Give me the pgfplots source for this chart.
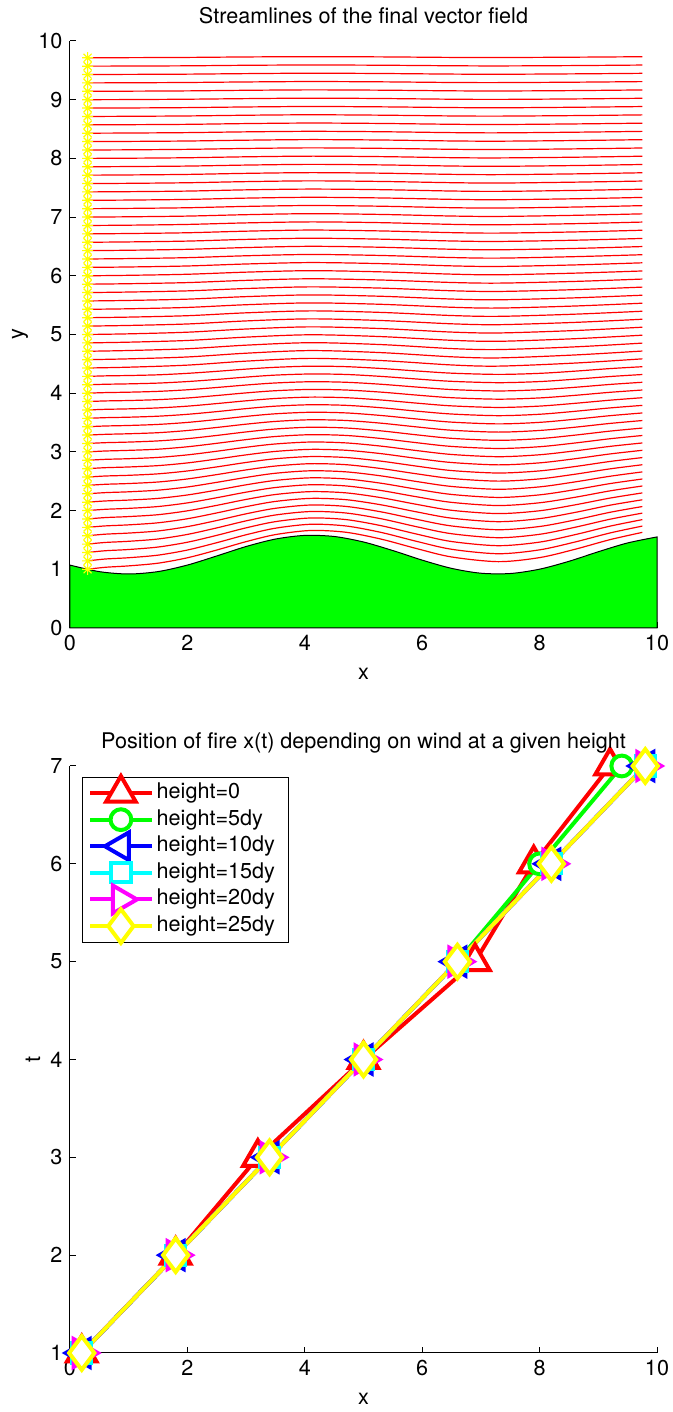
\documentclass[border=0pt]{standalone}
\usepackage{fontspec}
\setmainfont{TeX Gyre Heros}
\usepackage{pgfplots}
\pgfplotsset{compat=1.18}

\definecolor{mred}{rgb}{1,0,0}
\definecolor{mgreen}{rgb}{0,1,0}
\definecolor{mblue}{rgb}{0,0,1}
\definecolor{mcyan}{rgb}{0,1,1}
\definecolor{mmagenta}{rgb}{1,0,1}
\definecolor{myellow}{rgb}{1,1,0}

% eight-armed asterisk for the seed points
\pgfdeclareplotmark{mstar}{%
  \pgfpathmoveto{\pgfqpoint{-\pgfplotmarksize}{0pt}}%
  \pgfpathlineto{\pgfqpoint{\pgfplotmarksize}{0pt}}%
  \pgfpathmoveto{\pgfqpoint{0pt}{-\pgfplotmarksize}}%
  \pgfpathlineto{\pgfqpoint{0pt}{\pgfplotmarksize}}%
  \pgfpathmoveto{\pgfqpoint{-0.707\pgfplotmarksize}{-0.707\pgfplotmarksize}}%
  \pgfpathlineto{\pgfqpoint{0.707\pgfplotmarksize}{0.707\pgfplotmarksize}}%
  \pgfpathmoveto{\pgfqpoint{-0.707\pgfplotmarksize}{0.707\pgfplotmarksize}}%
  \pgfpathlineto{\pgfqpoint{0.707\pgfplotmarksize}{-0.707\pgfplotmarksize}}%
  \pgfusepathqstroke}

\pgfplotsset{
  panel/.style={
    scale only axis, width=293.5pt, height=293.5pt, anchor=south west,
    axis x line*=bottom, axis y line*=left,
    axis line style={-, line width=0.5pt, black},
    tick align=inside, major tick length=3pt,
    tick style={black, line width=0.5pt},
    /pgf/number format/assume math mode=true,
    xmin=0, xmax=10, xtick={0,2,4,6,8,10},
    clip=false,
    title style={at={(axis description cs:0.5,1)}, anchor=base, yshift=2.5pt},
    xlabel style={at={(axis description cs:0.5,0)}, anchor=base, yshift=-26pt},
  },
  stream/.style={mred, line width=0.6pt, smooth},
  fire/.style={line width=2pt},
}

\begin{document}
\begin{tikzpicture}
\fontsize{10.8}{13}\selectfont
\useasboundingbox (0,0) rectangle (336.5pt,706pt);

% ---------------- streamlines over the wavy ground ----------------
\begin{axis}[panel, at={(35pt,392pt)},
  ymin=0, ymax=10, ytick={0,1,2,3,4,5,6,7,8,9,10},
  title={Streamlines of the final vector field},
  xlabel={x}, ylabel={y},
  ylabel style={at={(axis description cs:-0.0852,0.5)}, anchor=center, rotate=0},
]
% ground
\addplot[fill=mgreen, draw=black, line width=0.5pt, smooth] coordinates {
 (0,1.071) (0.5,0.960) (1.0,0.920) (1.5,0.961) (2.0,1.072) (2.5,1.227)
 (3.0,1.388) (3.5,1.515) (4.0,1.577) (4.5,1.559) (5.0,1.465) (5.5,1.319)
 (6.0,1.156) (6.5,1.016) (7.0,0.933) (7.5,0.928) (8.0,1.002) (8.5,1.136)
 (9.0,1.299) (9.5,1.449) (10.0,1.551)} \closedcycle;

% lower streamlines
\addplot[stream] coordinates {(0.3,1.000)(0.6,1.034)(1.0,1.058)(1.5,1.104)(2.0,1.196)(2.5,1.328)(3.0,1.471)(3.5,1.591)(4.1,1.661)(4.7,1.631)(5.3,1.514)(5.9,1.354)(6.5,1.210)(7.3,1.130)(8.0,1.199)(8.6,1.340)(9.2,1.505)(9.75,1.629)};
\addplot[stream] coordinates {(0.3,1.143)(0.6,1.175)(1.0,1.197)(1.5,1.241)(2.0,1.328)(2.5,1.453)(3.0,1.588)(3.5,1.700)(4.1,1.767)(4.7,1.738)(5.3,1.628)(5.9,1.477)(6.5,1.341)(7.3,1.265)(8.0,1.331)(8.6,1.464)(9.2,1.619)(9.75,1.736)};
\addplot[stream] coordinates {(0.3,1.286)(0.6,1.316)(1.0,1.337)(1.5,1.379)(2.0,1.461)(2.5,1.578)(3.0,1.706)(3.5,1.812)(4.1,1.874)(4.7,1.847)(5.3,1.743)(5.9,1.601)(6.5,1.473)(7.3,1.402)(8.0,1.463)(8.6,1.589)(9.2,1.735)(9.75,1.846)};
\addplot[stream] coordinates {(0.3,1.429)(0.6,1.457)(1.0,1.477)(1.5,1.516)(2.0,1.594)(2.5,1.705)(3.0,1.825)(3.5,1.925)(4.1,1.984)(4.7,1.959)(5.3,1.861)(5.9,1.726)(6.5,1.606)(7.3,1.538)(8.0,1.596)(8.6,1.715)(9.2,1.853)(9.75,1.957)};
\addplot[stream] coordinates {(0.3,1.571)(0.6,1.598)(1.0,1.617)(1.5,1.653)(2.0,1.727)(2.5,1.831)(3.0,1.945)(3.5,2.039)(4.1,2.095)(4.7,2.071)(5.3,1.978)(5.9,1.852)(6.5,1.738)(7.3,1.674)(8.0,1.729)(8.6,1.840)(9.2,1.971)(9.75,2.069)};
\addplot[stream] coordinates {(0.3,1.714)(0.6,1.739)(1.0,1.757)(1.5,1.792)(2.0,1.861)(2.5,1.960)(3.0,2.067)(3.5,2.156)(4.1,2.208)(4.7,2.186)(5.3,2.098)(5.9,1.979)(6.5,1.871)(7.3,1.811)(8.0,1.863)(8.6,1.968)(9.2,2.092)(9.75,2.184)};
\addplot[stream] coordinates {(0.3,1.857)(0.6,1.881)(1.0,1.898)(1.5,1.930)(2.0,1.996)(2.5,2.089)(3.0,2.190)(3.5,2.274)(4.1,2.323)(4.7,2.302)(5.3,2.220)(5.9,2.107)(6.5,2.005)(7.3,1.949)(8.0,1.997)(8.6,2.097)(9.2,2.213)(9.75,2.301)};
\addplot[stream] coordinates {(0.3,2.000)(0.6,2.022)(1.0,2.038)(1.5,2.069)(2.0,2.131)(2.5,2.219)(3.0,2.314)(3.5,2.393)(4.1,2.440)(4.7,2.420)(5.3,2.342)(5.9,2.236)(6.5,2.140)(7.3,2.086)(8.0,2.133)(8.6,2.226)(9.2,2.336)(9.75,2.419)};
\addplot[stream] coordinates {(0.3,2.143)(0.6,2.164)(1.0,2.179)(1.5,2.208)(2.0,2.266)(2.5,2.349)(3.0,2.439)(3.5,2.514)(4.1,2.558)(4.7,2.539)(5.3,2.466)(5.9,2.365)(6.5,2.275)(7.3,2.224)(8.0,2.268)(8.6,2.356)(9.2,2.460)(9.75,2.538)};
\addplot[stream] coordinates {(0.3,2.286)(0.6,2.306)(1.0,2.320)(1.5,2.348)(2.0,2.402)(2.5,2.481)(3.0,2.565)(3.5,2.636)(4.1,2.678)(4.7,2.660)(5.3,2.591)(5.9,2.496)(6.5,2.411)(7.3,2.363)(8.0,2.404)(8.6,2.488)(9.2,2.585)(9.75,2.659)};
\addplot[stream] coordinates {(0.3,2.429)(0.6,2.448)(1.0,2.461)(1.5,2.487)(2.0,2.539)(2.5,2.613)(3.0,2.693)(3.5,2.759)(4.1,2.799)(4.7,2.782)(5.3,2.716)(5.9,2.627)(6.5,2.547)(7.3,2.502)(8.0,2.540)(8.6,2.619)(9.2,2.711)(9.75,2.781)};
\addplot[stream] coordinates {(0.3,2.571)(0.6,2.589)(1.0,2.601)(1.5,2.626)(2.0,2.675)(2.5,2.744)(3.0,2.820)(3.5,2.883)(4.1,2.920)(4.7,2.904)(5.3,2.842)(5.9,2.758)(6.5,2.682)(7.3,2.640)(8.0,2.676)(8.6,2.750)(9.2,2.837)(9.75,2.903)};
\addplot[stream] coordinates {(0.3,2.714)(0.6,2.731)(1.0,2.743)(1.5,2.766)(2.0,2.812)(2.5,2.878)(3.0,2.949)(3.5,3.008)(4.1,3.043)(4.7,3.028)(5.3,2.970)(5.9,2.890)(6.5,2.819)(7.3,2.779)(8.0,2.813)(8.6,2.883)(9.2,2.965)(9.75,3.027)};
\addplot[stream] coordinates {(0.3,2.857)(0.6,2.873)(1.0,2.884)(1.5,2.906)(2.0,2.949)(2.5,3.011)(3.0,3.079)(3.5,3.135)(4.1,3.168)(4.7,3.153)(5.3,3.098)(5.9,3.023)(6.5,2.956)(7.3,2.918)(8.0,2.951)(8.6,3.017)(9.2,3.094)(9.75,3.152)};
\addplot[stream] coordinates {(0.3,3.000)(0.6,3.015)(1.0,3.026)(1.5,3.046)(2.0,3.087)(2.5,3.146)(3.0,3.209)(3.5,3.262)(4.1,3.293)(4.7,3.280)(5.3,3.228)(5.9,3.157)(6.5,3.093)(7.3,3.058)(8.0,3.088)(8.6,3.151)(9.2,3.224)(9.75,3.279)};
\addplot[stream] coordinates {(0.3,3.143)(0.6,3.157)(1.0,3.167)(1.5,3.187)(2.0,3.225)(2.5,3.280)(3.0,3.340)(3.5,3.390)(4.1,3.420)(4.7,3.407)(5.3,3.358)(5.9,3.291)(6.5,3.231)(7.3,3.197)(8.0,3.226)(8.6,3.285)(9.2,3.354)(9.75,3.406)};
\addplot[stream] coordinates {(0.3,3.286)(0.6,3.299)(1.0,3.309)(1.5,3.327)(2.0,3.364)(2.5,3.416)(3.0,3.472)(3.5,3.519)(4.1,3.547)(4.7,3.535)(5.3,3.489)(5.9,3.426)(6.5,3.369)(7.3,3.337)(8.0,3.365)(8.6,3.420)(9.2,3.485)(9.75,3.534)};
\addplot[stream] coordinates {(0.3,3.429)(0.6,3.441)(1.0,3.450)(1.5,3.468)(2.0,3.502)(2.5,3.551)(3.0,3.605)(3.5,3.649)(4.1,3.675)(4.7,3.664)(5.3,3.620)(5.9,3.561)(6.5,3.507)(7.3,3.477)(8.0,3.503)(8.6,3.556)(9.2,3.617)(9.75,3.663)};
\addplot[stream] coordinates {(0.3,3.571)(0.6,3.583)(1.0,3.591)(1.5,3.608)(2.0,3.640)(2.5,3.686)(3.0,3.737)(3.5,3.779)(4.1,3.803)(4.7,3.793)(5.3,3.752)(5.9,3.695)(6.5,3.645)(7.3,3.617)(8.0,3.641)(8.6,3.691)(9.2,3.749)(9.75,3.792)};
\addplot[stream] coordinates {(0.3,3.714)(0.6,3.725)(1.0,3.733)(1.5,3.749)(2.0,3.779)(2.5,3.823)(3.0,3.870)(3.5,3.910)(4.1,3.933)(4.7,3.923)(5.3,3.884)(5.9,3.831)(6.5,3.784)(7.3,3.757)(8.0,3.780)(8.6,3.827)(9.2,3.881)(9.75,3.923)};
\addplot[stream] coordinates {(0.3,3.857)(0.6,3.868)(1.0,3.875)(1.5,3.890)(2.0,3.918)(2.5,3.960)(3.0,4.005)(3.5,4.042)(4.1,4.064)(4.7,4.054)(5.3,4.018)(5.9,3.968)(6.5,3.923)(7.3,3.898)(8.0,3.919)(8.6,3.963)(9.2,4.015)(9.75,4.054)};
\addplot[stream] coordinates {(0.3,4.000)(0.6,4.010)(1.0,4.017)(1.5,4.031)(2.0,4.058)(2.5,4.097)(3.0,4.139)(3.5,4.174)(4.1,4.195)(4.7,4.186)(5.3,4.152)(5.9,4.105)(6.5,4.062)(7.3,4.038)(8.0,4.059)(8.6,4.100)(9.2,4.149)(9.75,4.186)};
\addplot[stream] coordinates {(0.3,4.143)(0.6,4.152)(1.0,4.159)(1.5,4.172)(2.0,4.198)(2.5,4.234)(3.0,4.274)(3.5,4.308)(4.1,4.327)(4.7,4.319)(5.3,4.286)(5.9,4.242)(6.5,4.202)(7.3,4.179)(8.0,4.198)(8.6,4.238)(9.2,4.284)(9.75,4.318)};
\addplot[stream] coordinates {(0.3,4.286)(0.6,4.295)(1.0,4.301)(1.5,4.313)(2.0,4.338)(2.5,4.372)(3.0,4.410)(3.5,4.441)(4.1,4.460)(4.7,4.452)(5.3,4.421)(5.9,4.379)(6.5,4.341)(7.3,4.320)(8.0,4.338)(8.6,4.375)(9.2,4.419)(9.75,4.451)};

% upper streamlines
\addplot[stream] coordinates {(0.3,4.429)(1.0,4.443)(2.0,4.478)(3.0,4.546)(4.1,4.593)(5.3,4.556)(6.5,4.481)(7.3,4.461)(8.6,4.513)(9.75,4.585)};
\addplot[stream] coordinates {(0.3,4.571)(1.0,4.585)(2.0,4.617)(3.0,4.681)(4.1,4.726)(5.3,4.691)(6.5,4.620)(7.3,4.601)(8.6,4.651)(9.75,4.718)};
\addplot[stream] coordinates {(0.3,4.714)(1.0,4.727)(2.0,4.757)(3.0,4.818)(4.1,4.860)(5.3,4.828)(6.5,4.760)(7.3,4.743)(8.6,4.789)(9.75,4.853)};
\addplot[stream] coordinates {(0.3,4.857)(1.0,4.869)(2.0,4.898)(3.0,4.955)(4.1,4.995)(5.3,4.964)(6.5,4.901)(7.3,4.884)(8.6,4.928)(9.75,4.988)};
\addplot[stream] coordinates {(0.3,5.000)(1.0,5.011)(2.0,5.039)(3.0,5.093)(4.1,5.130)(5.3,5.101)(6.5,5.041)(7.3,5.026)(8.6,5.067)(9.75,5.124)};
\addplot[stream] coordinates {(0.3,5.143)(1.0,5.154)(2.0,5.179)(3.0,5.231)(4.1,5.266)(5.3,5.238)(6.5,5.182)(7.3,5.167)(8.6,5.206)(9.75,5.260)};
\addplot[stream] coordinates {(0.3,5.286)(1.0,5.296)(2.0,5.320)(3.0,5.369)(4.1,5.402)(5.3,5.376)(6.5,5.323)(7.3,5.309)(8.6,5.346)(9.75,5.396)};
\addplot[stream] coordinates {(0.3,5.429)(1.0,5.438)(2.0,5.461)(3.0,5.507)(4.1,5.538)(5.3,5.514)(6.5,5.464)(7.3,5.450)(8.6,5.485)(9.75,5.533)};
\addplot[stream] coordinates {(0.3,5.571)(1.0,5.580)(2.0,5.602)(3.0,5.645)(4.1,5.674)(5.3,5.651)(6.5,5.604)(7.3,5.591)(8.6,5.624)(9.75,5.669)};
\addplot[stream] coordinates {(0.3,5.714)(1.0,5.723)(2.0,5.743)(3.0,5.783)(4.1,5.811)(5.3,5.790)(6.5,5.745)(7.3,5.733)(8.6,5.764)(9.75,5.807)};
\addplot[stream] coordinates {(0.3,5.857)(1.0,5.865)(2.0,5.884)(3.0,5.922)(4.1,5.949)(5.3,5.928)(6.5,5.886)(7.3,5.875)(8.6,5.904)(9.75,5.944)};
\addplot[stream] coordinates {(0.3,6.000)(1.0,6.008)(2.0,6.026)(3.0,6.062)(4.1,6.087)(5.3,6.067)(6.5,6.028)(7.3,6.017)(8.6,6.045)(9.75,6.082)};
\addplot[stream] coordinates {(0.3,6.143)(1.0,6.150)(2.0,6.167)(3.0,6.201)(4.1,6.225)(5.3,6.207)(6.5,6.169)(7.3,6.159)(8.6,6.185)(9.75,6.221)};
\addplot[stream] coordinates {(0.3,6.286)(1.0,6.293)(2.0,6.309)(3.0,6.341)(4.1,6.363)(5.3,6.346)(6.5,6.311)(7.3,6.301)(8.6,6.326)(9.75,6.359)};
\addplot[stream] coordinates {(0.3,6.429)(1.0,6.435)(2.0,6.451)(3.0,6.481)(4.1,6.502)(5.3,6.486)(6.5,6.452)(7.3,6.443)(8.6,6.466)(9.75,6.498)};
\addplot[stream] coordinates {(0.3,6.571)(1.0,6.577)(2.0,6.591)(3.0,6.620)(4.1,6.640)(5.3,6.624)(6.5,6.593)(7.3,6.585)(8.6,6.606)(9.75,6.636)};
\addplot[stream] coordinates {(0.3,6.714)(1.0,6.720)(2.0,6.733)(3.0,6.760)(4.1,6.779)(5.3,6.764)(6.5,6.735)(7.3,6.727)(8.6,6.747)(9.75,6.776)};
\addplot[stream] coordinates {(0.3,6.857)(1.0,6.862)(2.0,6.875)(3.0,6.901)(4.1,6.918)(5.3,6.905)(6.5,6.876)(7.3,6.869)(8.6,6.888)(9.75,6.915)};
\addplot[stream] coordinates {(0.3,7.000)(1.0,7.005)(2.0,7.017)(3.0,7.041)(4.1,7.058)(5.3,7.045)(6.5,7.018)(7.3,7.011)(8.6,7.030)(9.75,7.055)};
\addplot[stream] coordinates {(0.3,7.143)(1.0,7.148)(2.0,7.159)(3.0,7.182)(4.1,7.197)(5.3,7.185)(6.5,7.160)(7.3,7.154)(8.6,7.171)(9.75,7.195)};
\addplot[stream] coordinates {(0.3,7.286)(1.0,7.290)(2.0,7.301)(3.0,7.323)(4.1,7.337)(5.3,7.326)(6.5,7.302)(7.3,7.296)(8.6,7.312)(9.75,7.335)};
\addplot[stream] coordinates {(0.3,7.429)(1.0,7.433)(2.0,7.443)(3.0,7.464)(4.1,7.477)(5.3,7.467)(6.5,7.444)(7.3,7.438)(8.6,7.454)(9.75,7.475)};
\addplot[stream] coordinates {(0.3,7.571)(1.0,7.575)(2.0,7.585)(3.0,7.604)(4.1,7.617)(5.3,7.607)(6.5,7.586)(7.3,7.580)(8.6,7.595)(9.75,7.614)};
\addplot[stream] coordinates {(0.3,7.714)(1.0,7.718)(2.0,7.727)(3.0,7.745)(4.1,7.757)(5.3,7.748)(6.5,7.728)(7.3,7.723)(8.6,7.736)(9.75,7.755)};
\addplot[stream] coordinates {(0.3,7.857)(1.0,7.861)(2.0,7.869)(3.0,7.886)(4.1,7.898)(5.3,7.889)(6.5,7.870)(7.3,7.865)(8.6,7.878)(9.75,7.896)};
\addplot[stream] coordinates {(0.3,8.000)(1.0,8.003)(2.0,8.011)(3.0,8.027)(4.1,8.038)(5.3,8.030)(6.5,8.012)(7.3,8.008)(8.6,8.020)(9.75,8.037)};
\addplot[stream] coordinates {(0.3,8.143)(1.0,8.146)(2.0,8.154)(3.0,8.169)(4.1,8.179)(5.3,8.171)(6.5,8.155)(7.3,8.150)(8.6,8.162)(9.75,8.177)};
\addplot[stream] coordinates {(0.3,8.286)(1.0,8.289)(2.0,8.296)(3.0,8.310)(4.1,8.320)(5.3,8.313)(6.5,8.297)(7.3,8.293)(8.6,8.304)(9.75,8.319)};
\addplot[stream] coordinates {(0.3,8.429)(1.0,8.432)(2.0,8.439)(3.0,8.452)(4.1,8.461)(5.3,8.454)(6.5,8.439)(7.3,8.435)(8.6,8.446)(9.75,8.460)};
\addplot[stream] coordinates {(0.3,8.571)(1.0,8.574)(2.0,8.580)(3.0,8.593)(4.1,8.602)(5.3,8.595)(6.5,8.581)(7.3,8.577)(8.6,8.587)(9.75,8.600)};
\addplot[stream] coordinates {(0.3,8.714)(1.0,8.717)(2.0,8.723)(3.0,8.735)(4.1,8.743)(5.3,8.736)(6.5,8.723)(7.3,8.720)(8.6,8.729)(9.75,8.741)};
\addplot[stream] coordinates {(0.3,8.857)(1.0,8.859)(2.0,8.865)(3.0,8.876)(4.1,8.884)(5.3,8.878)(6.5,8.866)(7.3,8.862)(8.6,8.871)(9.75,8.883)};
\addplot[stream] coordinates {(0.3,9.000)(1.0,9.002)(2.0,9.008)(3.0,9.018)(4.1,9.026)(5.3,9.020)(6.5,9.008)(7.3,9.005)(8.6,9.013)(9.75,9.024)};
\addplot[stream] coordinates {(0.3,9.143)(1.0,9.145)(2.0,9.150)(3.0,9.160)(4.1,9.167)(5.3,9.162)(6.5,9.151)(7.3,9.148)(8.6,9.155)(9.75,9.166)};
\addplot[stream] coordinates {(0.3,9.286)(1.0,9.288)(2.0,9.293)(3.0,9.302)(4.1,9.309)(5.3,9.304)(6.5,9.293)(7.3,9.291)(8.6,9.298)(9.75,9.308)};
\addplot[stream] coordinates {(0.3,9.429)(1.0,9.431)(2.0,9.435)(3.0,9.444)(4.1,9.451)(5.3,9.446)(6.5,9.436)(7.3,9.433)(8.6,9.440)(9.75,9.449)};
\addplot[stream] coordinates {(0.3,9.571)(1.0,9.573)(2.0,9.577)(3.0,9.586)(4.1,9.591)(5.3,9.587)(6.5,9.578)(7.3,9.575)(8.6,9.581)(9.75,9.590)};
\addplot[stream] coordinates {(0.3,9.714)(1.0,9.716)(2.0,9.720)(3.0,9.728)(4.1,9.733)(5.3,9.729)(6.5,9.720)(7.3,9.718)(8.6,9.724)(9.75,9.732)};

% seed points
\addplot[only marks, mark=mstar, mark size=2.8pt, myellow, mark options={line width=0.6pt}] coordinates {
 (0.3,1.000)(0.3,1.143)(0.3,1.286)(0.3,1.429)(0.3,1.571)(0.3,1.714)(0.3,1.857)(0.3,2.000)
 (0.3,2.143)(0.3,2.286)(0.3,2.429)(0.3,2.571)(0.3,2.714)(0.3,2.857)(0.3,3.000)(0.3,3.143)
 (0.3,3.286)(0.3,3.429)(0.3,3.571)(0.3,3.714)(0.3,3.857)(0.3,4.000)(0.3,4.143)(0.3,4.286)
 (0.3,4.429)(0.3,4.571)(0.3,4.714)(0.3,4.857)(0.3,5.000)(0.3,5.143)(0.3,5.286)(0.3,5.429)
 (0.3,5.571)(0.3,5.714)(0.3,5.857)(0.3,6.000)(0.3,6.143)(0.3,6.286)(0.3,6.429)(0.3,6.571)
 (0.3,6.714)(0.3,6.857)(0.3,7.000)(0.3,7.143)(0.3,7.286)(0.3,7.429)(0.3,7.571)(0.3,7.714)
 (0.3,7.857)(0.3,8.000)(0.3,8.143)(0.3,8.286)(0.3,8.429)(0.3,8.571)(0.3,8.714)(0.3,8.857)
 (0.3,9.000)(0.3,9.143)(0.3,9.286)(0.3,9.429)(0.3,9.571)(0.3,9.714)};
\end{axis}

% ---------------- fire position against time ----------------
\begin{axis}[panel, at={(35pt,29.5pt)},
  ymin=1, ymax=7, ytick={1,2,3,4,5,6,7},
  title={Position of fire x(t) depending on wind at a given height},
  xlabel={x}, ylabel={t},
  ylabel style={at={(axis description cs:-0.063,0.5)}, anchor=center, rotate=0},
  legend cell align=left,
  legend image code/.code={%
    \path[draw=none, fill=none] (0pt,-3pt) rectangle (30.8pt,3pt);
    \draw[mark repeat=2, mark phase=2, overlay, #1] plot coordinates {(0pt,0pt) (15.4pt,0pt) (30.8pt,0pt)};},
  legend style={at={(axis description cs:0.0198,0.982)}, anchor=north west,
    draw=black, line width=0.5pt, fill=white, inner xsep=4pt, inner ysep=1.5pt,
    row sep=0.3pt,
    nodes={inner xsep=2.5pt, inner ysep=1.2pt, text height=8pt, text depth=2.6pt, anchor=west}},
]
\addplot[fire, mred, mark=triangle*, mark size=8.5pt,
  mark options={solid, fill=white, line width=2pt}]
  coordinates {(0.2,1) (1.8,2) (3.2,3) (5.0,4) (6.9,5) (7.9,6) (9.2,7)};
\addplot[fire, mgreen, mark=*, mark size=5.2pt,
  mark options={solid, fill=white, line width=2pt}]
  coordinates {(0.2,1) (1.8,2) (3.4,3) (5.0,4) (6.6,5) (8.0,6) (9.4,7)};
\addplot[fire, mblue, mark=triangle*, mark size=8pt,
  mark options={solid, fill=white, line width=2pt, rotate=90}]
  coordinates {(0.2,1) (1.8,2) (3.4,3) (5.0,4) (6.6,5) (8.2,6) (9.8,7)};
\addplot[fire, mcyan, mark=square*, mark size=4.8pt,
  mark options={solid, fill=white, line width=2pt}]
  coordinates {(0.2,1) (1.8,2) (3.4,3) (5.0,4) (6.6,5) (8.2,6) (9.8,7)};
\addplot[fire, mmagenta, mark=triangle*, mark size=8pt,
  mark options={solid, fill=white, line width=2pt, rotate=-90}]
  coordinates {(0.2,1) (1.8,2) (3.4,3) (5.0,4) (6.6,5) (8.2,6) (9.8,7)};
\addplot[fire, myellow, mark=diamond*, mark size=8.4pt,
  mark options={solid, fill=white, line width=2pt}]
  coordinates {(0.2,1) (1.8,2) (3.4,3) (5.0,4) (6.6,5) (8.2,6) (9.8,7)};
\legend{height=0, height=5dy, height=10dy, height=15dy, height=20dy, height=25dy}
\end{axis}
\end{tikzpicture}
\end{document}
